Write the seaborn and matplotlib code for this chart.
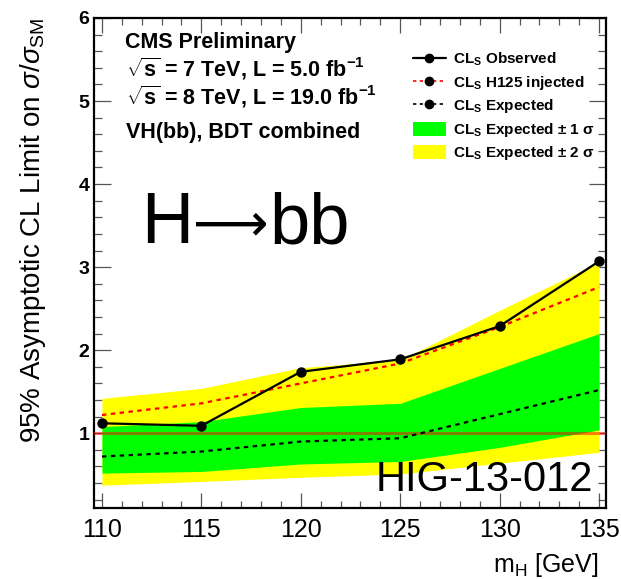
import matplotlib
matplotlib.use("Agg")
import matplotlib.pyplot as plt
from matplotlib.lines import Line2D
from matplotlib.patches import Patch
from matplotlib.ticker import MultipleLocator
import seaborn as sns
import pandas as pd

# ---- data ----
mass = [110, 115, 120, 125, 130, 135]
observed = [1.12, 1.09, 1.74, 1.89, 2.29, 3.07]
injected = [1.22, 1.36, 1.60, 1.84, 2.28, 2.76]
expected = [0.72, 0.78, 0.90, 0.94, 1.23, 1.52]
sig1_lo = [0.52, 0.54, 0.63, 0.66, 0.83, 1.04]
sig1_hi = [1.08, 1.14, 1.31, 1.36, 1.78, 2.20]
sig2_lo = [0.375, 0.42, 0.47, 0.51, 0.64, 0.77]
sig2_hi = [1.42, 1.54, 1.79, 1.88, 2.48, 3.06]
x_ticks = [110, 115, 120, 125, 130, 135]
y_ticks = [1, 2, 3, 4, 5, 6]

df = pd.DataFrame({"mass": mass, "observed": observed,
                   "injected": injected, "expected": expected})

sns.set_theme(style="ticks")
plt.rcParams["font.family"] = ["Liberation Sans", "DejaVu Sans"]
plt.rcParams["mathtext.fontset"] = "custom"
plt.rcParams["mathtext.rm"] = "Liberation Sans"
plt.rcParams["mathtext.it"] = "Liberation Sans:italic"
plt.rcParams["mathtext.bf"] = "Liberation Sans:bold"
for k in ["text.color", "axes.labelcolor", "xtick.labelcolor", "ytick.labelcolor"]:
    plt.rcParams[k] = "black"

W, H = 621, 579
fig = plt.figure(figsize=(W / 100, H / 100), dpi=100)
ax = fig.add_axes([94 / W, (H - 508) / H, 512 / W, 490 / H])

# bands
ax.fill_between(mass, sig2_lo, sig2_hi, color="#ffff00", lw=0, zorder=1)
ax.fill_between(mass, sig1_lo, sig1_hi, color="#00ff00", lw=0, zorder=2)
ax.axhline(1, color="#ff0000", alpha=0.5, lw=2.2, zorder=3)

sns.lineplot(data=df, x="mass", y="expected", ax=ax, color="black",
             lw=1.6, linestyle=(0, (2, 2)), zorder=4)
sns.lineplot(data=df, x="mass", y="injected", ax=ax, color="#ff0000",
             lw=1.6, linestyle=(0, (2, 2)), zorder=5)
sns.lineplot(data=df, x="mass", y="observed", ax=ax, color="black",
             lw=1.6, marker="o", markersize=7.5, markeredgewidth=0, zorder=6)

ax.set_xlim(109.6, 135.35)
ax.set_ylim(0.1, 6)
ax.set_xticks(x_ticks)
ax.set_yticks(y_ticks)
ax.xaxis.set_minor_locator(MultipleLocator(1))
ax.yaxis.set_minor_locator(MultipleLocator(0.2))
ax.tick_params(which="both", direction="in", top=True, right=True,
               color="#555555", width=0.9, labelcolor="black")
ax.tick_params(axis="x", which="major", length=10.5, labelsize=18, pad=7)
ax.tick_params(axis="x", which="minor", length=5)
ax.tick_params(axis="y", which="major", length=12, labelsize=14, pad=3.5)
ax.tick_params(axis="y", which="minor", length=6)
for lab in ax.get_yticklabels():
    lab.set_fontweight("bold")
for sp in ax.spines.values():
    sp.set_linewidth(1.6)
    sp.set_color("black")

ax.set_xlabel(r"m$_\mathrm{H}$ [GeV]", fontsize=18, loc="right")
ax.xaxis.set_label_coords((598 - 94) / 512, -0.088)
ax.set_ylabel(r"95% Asymptotic CL Limit on $\sigma/\sigma_\mathrm{SM}$",
              fontsize=20)
ax.yaxis.set_label_coords(-0.09, 0.567)

# header texts
tf = ax.transAxes
def px(xp, yp):
    return ((xp - 94) / 512, (508 - yp) / 490)

ax.text(*px(125, 48), "CMS Preliminary", transform=tf, fontsize=15.5,
        fontweight="bold", va="baseline", ha="left")
ax.text(*px(126, 76), r"$\sqrt{\mathbf{s}}$ = 7 TeV, L = 5.0 fb$^{\mathbf{-1}}$",
        transform=tf, fontsize=15.5, fontweight="bold", va="baseline", ha="left")
ax.text(*px(126, 104), r"$\sqrt{\mathbf{s}}$ = 8 TeV, L = 19.0 fb$^{\mathbf{-1}}$",
        transform=tf, fontsize=15.5, fontweight="bold", va="baseline", ha="left")
ax.text(*px(126, 138), "VH(bb), BDT combined", transform=tf, fontsize=15.5,
        fontweight="bold", va="baseline", ha="left")
# "H→bb" drawn as three pieces so the arrow matches the reference length
ax.text(*px(141, 243), "H", transform=tf, fontsize=52,
        va="baseline", ha="left")
ax.text(*px(193, 240), "\u27f6", transform=tf, fontsize=38,
        va="baseline", ha="left", family=["DejaVu Sans"])
ax.text(*px(269, 243), "bb", transform=tf, fontsize=52,
        va="baseline", ha="left")
ax.text(*px(593, 491), "HIG-13-012", transform=tf, fontsize=30,
        va="baseline", ha="right", zorder=10)

# legend
handles = [
    Line2D([], [], color="black", lw=1.6, marker="o", markersize=6),
    Line2D([], [], color="#ff0000", lw=1.2, linestyle=(0, (2, 2)),
           marker="o", markersize=6, markerfacecolor="black",
           markeredgecolor="black"),
    Line2D([], [], color="black", lw=1.2, linestyle=(0, (2, 2)),
           marker="o", markersize=6),
    Patch(facecolor="#00ff00", edgecolor="none"),
    Patch(facecolor="#ffff00", edgecolor="none"),
]
labels = [
    r"CL$_\mathbf{S}$ Observed",
    r"CL$_\mathbf{S}$ H125 injected",
    r"CL$_\mathbf{S}$ Expected",
    "CL$_\\mathbf{S}$ Expected \u00b1 1 \u03c3",
    "CL$_\\mathbf{S}$ Expected \u00b1 2 \u03c3",
]
leg = ax.legend(handles, labels, loc="upper left",
                bbox_to_anchor=px(413, 51), bbox_transform=tf,
                frameon=False, borderpad=0, borderaxespad=0,
                handlelength=2.15, handleheight=1.05, handletextpad=0.5,
                labelspacing=0.36, prop={"size": 11, "weight": "bold"})

fig.savefig("out.png", dpi=100)
